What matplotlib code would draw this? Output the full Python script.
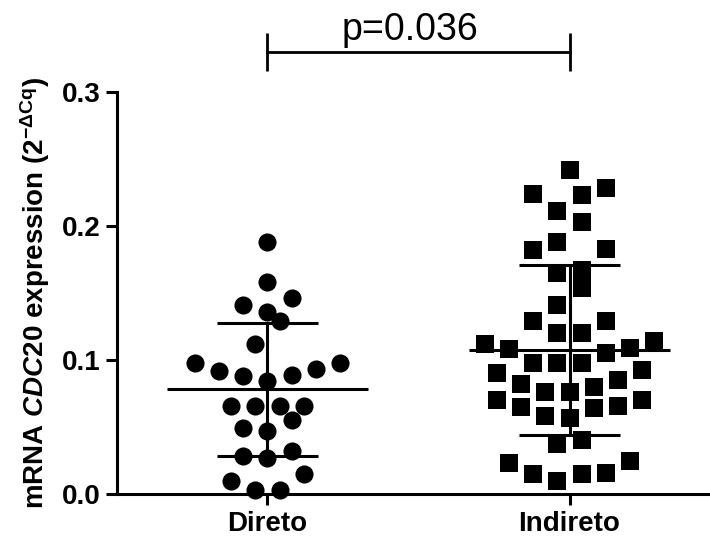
import matplotlib
matplotlib.use("Agg")
import matplotlib.pyplot as plt
import numpy as np

plt.rcParams['font.family'] = ['Liberation Sans', 'DejaVu Sans']
plt.rcParams['mathtext.fontset'] = 'custom'
plt.rcParams['mathtext.rm'] = 'Liberation Sans:bold'
plt.rcParams['mathtext.bf'] = 'Liberation Sans:bold'
plt.rcParams['mathtext.it'] = 'Liberation Sans:italic:bold'

# dados
grupos = ['Direto', 'Indireto']
direto = [0.188, 0.158, 0.146, 0.141, 0.136, 0.129, 0.112, 0.098, 0.093, 0.089,
          0.084, 0.088, 0.092, 0.098, 0.066, 0.066, 0.066, 0.066, 0.055, 0.047,
          0.049, 0.028, 0.027, 0.032, 0.010, 0.015, 0.003, 0.003]
indireto = [0.242, 0.228, 0.223, 0.224, 0.211, 0.203, 0.183, 0.188, 0.182, 0.167,
            0.165, 0.154, 0.141, 0.129, 0.129, 0.120, 0.120, 0.112, 0.108, 0.105,
            0.109, 0.114, 0.098, 0.0975, 0.0975, 0.090, 0.0925, 0.082, 0.076, 0.076,
            0.080, 0.085, 0.070, 0.066, 0.064, 0.057, 0.058, 0.065, 0.070, 0.040,
            0.037, 0.023, 0.015, 0.010, 0.0147, 0.016, 0.025]
p_texto = 'p=0.036'
yticks = [0.0, 0.1, 0.2, 0.3]


# espalha os pontos em linhas (tipo GraphPad)
def swarm(vals, w=0.018, passo=0.08):
    v = np.sort(np.asarray(vals, dtype=float))
    xs, ys = [], []
    i = 0
    while i < len(v):
        j = i
        while j < len(v) and v[j] - v[i] < w:
            j += 1
        n = j - i
        if n % 2:
            slots = [0] + [s * k for k in range(1, n) for s in (-1, 1)]
        else:
            slots = [s * (k + 0.5) for k in range(n) for s in (-1, 1)]
        xs += slots[:n]
        ys += list(v[i:j])
        i = j
    return np.array(xs) * passo, np.array(ys)


W, H = 710, 545
fig = plt.figure(figsize=(W / 100, H / 100), dpi=100)
ax = fig.add_axes([117 / W, (H - 494) / H, (W - 117) / W, (494 - 92) / H])

marcadores = ['o', 's']
tamanhos = [170, 150]
for k, dados in enumerate([direto, indireto]):
    dx, dy = swarm(dados)
    ax.scatter(k + dx, dy, marker=marcadores[k], s=tamanhos[k], color='black',
               linewidths=0, clip_on=False, zorder=3)
    m = np.mean(dados)
    sd = np.std(dados, ddof=1)
    ax.hlines(m, k - 0.333, k + 0.333, color='black', lw=2.2, zorder=4)
    ax.hlines([m - sd, m + sd], k - 0.166, k + 0.166, color='black', lw=2.2, zorder=4)
    ax.vlines(k, m - sd, m + sd, color='black', lw=2.2, zorder=4)

ax.set_xlim(-0.498, 1.465)
ax.set_ylim(0, 0.3)
ax.spines['top'].set_visible(False)
ax.spines['right'].set_visible(False)
ax.spines['left'].set_linewidth(2.2)
ax.spines['bottom'].set_linewidth(2.2)
ax.set_xticks([0, 1])
ax.set_xticklabels(grupos, fontsize=20, fontweight='bold')
ax.set_yticks(yticks)
ax.set_yticklabels(['%.1f' % t for t in yticks], fontsize=20, fontweight='bold')
ax.tick_params(width=2.2, length=8, direction='out', pad=4)
ax.set_ylabel(r'mRNA $\mathit{CDC20}$ expression (2$^{\mathrm{-}\Delta\mathrm{Cq}}$)',
              fontsize=20, fontweight='bold', labelpad=7)

# barra de significancia
yb = 0.330
ax.plot([0, 1], [yb, yb], color='black', lw=2, clip_on=False)
ax.vlines([0, 1], yb - 0.014, yb + 0.014, color='black', lw=2, clip_on=False)
ax.text(0.472, yb + 0.003, p_texto, ha='center', va='bottom', fontsize=27)

fig.savefig('out.png', dpi=100)
